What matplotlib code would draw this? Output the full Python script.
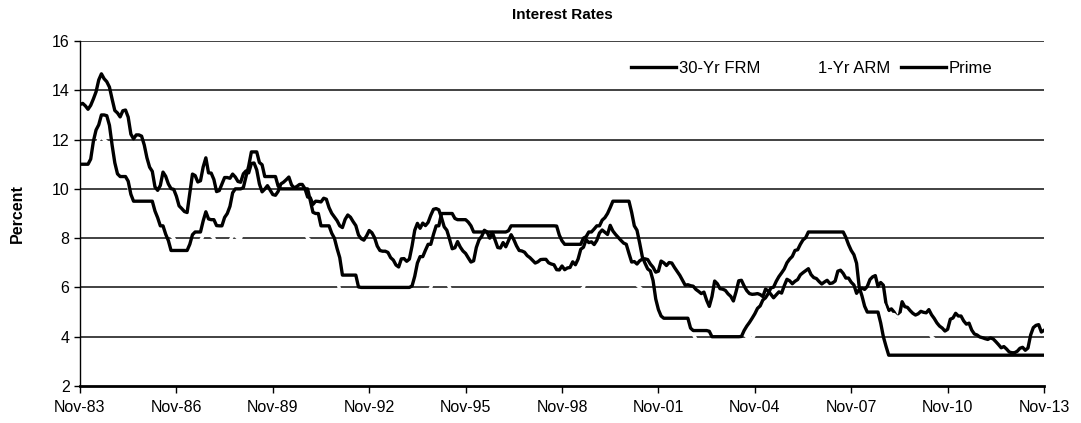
import numpy as np
import matplotlib
matplotlib.use("Agg")
import matplotlib.pyplot as plt

plt.rcParams['font.family'] = ['Liberation Sans', 'DejaVu Sans']

# Monthly data, Nov-1983 .. Nov-2013
frm = [
    13.42, 13.47,
    13.37, 13.23, 13.39, 13.65, 13.94, 14.42, 14.67, 14.47, 14.35, 14.13, 13.64, 13.18,
    13.08, 12.92, 13.17, 13.20, 12.91, 12.22, 12.03, 12.19, 12.19, 12.14, 11.78, 11.26,
    10.88, 10.71, 10.08, 9.94, 10.14, 10.68, 10.51, 10.20, 10.01, 9.98, 9.70, 9.31,
    9.20, 9.08, 9.04, 9.83, 10.60, 10.54, 10.28, 10.33, 10.89, 11.26, 10.65, 10.64,
    10.38, 9.89, 9.93, 10.20, 10.46, 10.46, 10.43, 10.60, 10.48, 10.30, 10.27, 10.61,
    10.73, 10.65, 11.03, 11.05, 10.77, 10.20, 9.88, 9.99, 10.13, 9.95, 9.77, 9.74,
    9.90, 10.20, 10.27, 10.37, 10.48, 10.16, 10.04, 10.10, 10.18, 10.18, 10.01, 9.67,
    9.64, 9.37, 9.50, 9.49, 9.47, 9.62, 9.58, 9.24, 9.01, 8.86, 8.71, 8.50,
    8.43, 8.76, 8.94, 8.85, 8.67, 8.51, 8.13, 7.98, 7.92, 8.09, 8.31, 8.22,
    8.02, 7.68, 7.50, 7.47, 7.47, 7.42, 7.21, 7.11, 6.91, 6.83, 7.16, 7.17,
    7.06, 7.15, 7.68, 8.32, 8.60, 8.40, 8.61, 8.51, 8.64, 8.93, 9.17, 9.20,
    9.15, 8.83, 8.46, 8.32, 7.96, 7.57, 7.61, 7.86, 7.64, 7.48, 7.38, 7.20,
    7.03, 7.08, 7.62, 7.93, 8.07, 8.32, 8.25, 8.00, 8.23, 7.92, 7.62, 7.60,
    7.82, 7.65, 7.90, 8.14, 7.94, 7.69, 7.50, 7.48, 7.43, 7.29, 7.21, 7.10,
    6.99, 7.04, 7.13, 7.14, 7.14, 7.00, 6.95, 6.92, 6.72, 6.71, 6.87, 6.72,
    6.79, 6.81, 7.04, 6.92, 7.15, 7.55, 7.63, 7.94, 7.82, 7.85, 7.74, 7.91,
    8.21, 8.33, 8.24, 8.15, 8.52, 8.29, 8.15, 8.03, 7.91, 7.80, 7.75, 7.38,
    7.03, 7.05, 6.95, 7.08, 7.15, 7.16, 7.13, 6.95, 6.82, 6.62, 6.66, 7.07,
    7.00, 6.89, 7.01, 6.99, 6.81, 6.65, 6.49, 6.29, 6.09, 6.11, 6.07, 6.05,
    5.92, 5.84, 5.75, 5.81, 5.48, 5.23, 5.63, 6.26, 6.15, 5.95, 5.93, 5.88,
    5.74, 5.64, 5.45, 5.83, 6.27, 6.29, 6.06, 5.87, 5.75, 5.72, 5.73, 5.75,
    5.71, 5.63, 5.93, 5.86, 5.72, 5.58, 5.70, 5.82, 5.77, 6.07, 6.33, 6.27,
    6.15, 6.25, 6.32, 6.51, 6.60, 6.68, 6.76, 6.52, 6.40, 6.36, 6.24, 6.14,
    6.22, 6.29, 6.16, 6.18, 6.26, 6.66, 6.70, 6.57, 6.38, 6.38, 6.21, 6.10,
    5.76, 5.92, 5.97, 5.92, 6.04, 6.32, 6.43, 6.48, 6.04, 6.20, 6.09, 5.33,
    5.06, 5.13, 5.00, 4.81, 4.86, 5.42, 5.22, 5.19, 5.06, 4.95, 4.88, 4.93,
    5.03, 4.99, 4.97, 5.10, 4.89, 4.74, 4.56, 4.43, 4.35, 4.23, 4.30, 4.71,
    4.76, 4.95, 4.84, 4.84, 4.64, 4.51, 4.55, 4.27, 4.11, 4.07, 3.99, 3.96,
    3.92, 3.89, 3.95, 3.91, 3.80, 3.68, 3.55, 3.60, 3.50, 3.38, 3.35, 3.35,
    3.41, 3.53, 3.57, 3.45, 3.54, 4.07, 4.37, 4.46, 4.49, 4.19, 4.26,
]

arm = [
    np.nan, np.nan,
    11.2, 11.3, 11.3, 11.5, 11.7, 12.0, 12.1, 12.0, 11.9, 11.6, 11.1, 10.7,
    10.5, 10.4, 10.6, 10.5, 10.2, 9.6, 9.4, 9.5, 9.5, 9.4, 9.2, 8.9,
    8.7, 8.6, 8.3, 8.2, 8.2, 8.4, 8.5, 8.4, 8.1, 8.0, 7.8, 7.6,
    7.4, 7.3, 7.2, 7.4, 7.9, 7.9, 7.8, 7.9, 8.1, 8.5, 8.3, 8.1,
    8.0, 7.7, 7.6, 7.6, 7.7, 7.8, 7.9, 8.1, 8.1, 8.0, 8.0, 8.3,
    8.7, 8.8, 9.1, 9.2, 9.1, 8.9, 8.6, 8.5, 8.6, 8.6, 8.5, 8.4,
    8.3, 8.4, 8.5, 8.6, 8.6, 8.4, 8.3, 8.3, 8.3, 8.3, 8.2, 8.0,
    7.9, 7.5, 7.5, 7.4, 7.3, 7.3, 7.3, 7.1, 6.8, 6.6, 6.3, 5.9,
    5.7, 5.6, 5.9, 5.8, 5.7, 5.5, 5.3, 5.2, 5.2, 5.3, 5.6, 5.5,
    5.2, 5.0, 4.9, 4.7, 4.6, 4.6, 4.5, 4.5, 4.4, 4.3, 4.3, 4.3,
    4.2, 4.3, 4.7, 5.2, 5.5, 5.5, 5.6, 5.7, 5.8, 6.0, 6.3, 6.5,
    6.6, 6.5, 6.3, 6.2, 6.0, 5.7, 5.6, 5.8, 5.8, 5.6, 5.5, 5.4,
    5.2, 5.2, 5.4, 5.6, 5.7, 5.9, 5.9, 5.8, 5.8, 5.7, 5.6, 5.6,
    5.6, 5.5, 5.6, 5.8, 5.8, 5.7, 5.6, 5.6, 5.6, 5.6, 5.6, 5.6,
    5.5, 5.5, 5.6, 5.6, 5.6, 5.6, 5.6, 5.6, 5.5, 5.3, 5.5, 5.6,
    5.6, 5.6, 5.7, 5.6, 5.7, 5.9, 6.0, 6.3, 6.4, 6.4, 6.3, 6.4,
    6.6, 6.9, 7.1, 7.1, 7.3, 7.3, 7.2, 7.2, 7.1, 7.1, 7.1, 6.9,
    6.5, 6.3, 6.1, 6.0, 5.9, 5.9, 5.8, 5.8, 5.6, 5.4, 5.4, 5.6,
    5.3, 5.2, 5.2, 5.2, 5.0, 4.8, 4.6, 4.4, 4.3, 4.2, 4.1, 4.1,
    3.9, 3.8, 3.8, 3.8, 3.7, 3.6, 3.6, 3.8, 3.7, 3.7, 3.7, 3.7,
    3.6, 3.5, 3.4, 3.6, 4.0, 4.2, 4.1, 4.0, 4.0, 3.9, 4.1, 4.2,
    4.2, 4.2, 4.3, 4.3, 4.2, 4.2, 4.4, 4.6, 4.6, 4.8, 5.0, 5.1,
    5.2, 5.3, 5.4, 5.6, 5.6, 5.7, 5.8, 5.7, 5.6, 5.5, 5.5, 5.4,
    5.5, 5.5, 5.4, 5.4, 5.5, 5.7, 5.7, 5.7, 5.6, 5.6, 5.5, 5.5,
    5.1, 5.0, 5.0, 5.1, 5.2, 5.3, 5.3, 5.2, 5.2, 5.2, 5.3, 5.0,
    4.9, 4.9, 4.9, 4.8, 4.8, 4.9, 4.8, 4.7, 4.6, 4.5, 4.4, 4.3,
    4.3, 4.3, 4.2, 4.2, 4.0, 3.9, 3.8, 3.6, 3.5, 3.4, 3.3, 3.3,
    3.3, 3.3, 3.2, 3.2, 3.1, 3.0, 3.0, 2.9, 2.9, 2.9, 2.9, 2.8,
    2.8, 2.8, 2.8, 2.8, 2.8, 2.7, 2.7, 2.6, 2.6, 2.6, 2.6, 2.6,
    2.6, 2.6, 2.6, 2.6, 2.6, 2.6, 2.7, 2.6, 2.6, 2.6, 2.6,
]

prime = [
    11.0, 11.0,
    11.0, 11.0, 11.21, 11.93, 12.39, 12.6, 13.0, 13.0, 12.97, 12.58, 11.77, 11.06,
    10.61, 10.5, 10.5, 10.5, 10.31, 9.78, 9.5, 9.5, 9.5, 9.5, 9.5, 9.5,
    9.5, 9.5, 9.1, 8.83, 8.5, 8.5, 8.16, 7.9, 7.5, 7.5, 7.5, 7.5,
    7.5, 7.5, 7.5, 7.75, 8.14, 8.25, 8.25, 8.25, 8.7, 9.07, 8.78, 8.75,
    8.75, 8.51, 8.5, 8.5, 8.84, 9.0, 9.29, 9.84, 10.0, 10.0, 10.0, 10.05,
    10.5, 10.93, 11.5, 11.5, 11.5, 11.07, 10.98, 10.5, 10.5, 10.5, 10.5, 10.5,
    10.11, 10.0, 10.0, 10.0, 10.0, 10.0, 10.0, 10.0, 10.0, 10.0, 10.0, 10.0,
    9.52, 9.05, 9.0, 9.0, 8.5, 8.5, 8.5, 8.5, 8.2, 8.0, 7.58, 7.21,
    6.5, 6.5, 6.5, 6.5, 6.5, 6.5, 6.02, 6.0, 6.0, 6.0, 6.0, 6.0,
    6.0, 6.0, 6.0, 6.0, 6.0, 6.0, 6.0, 6.0, 6.0, 6.0, 6.0, 6.0,
    6.0, 6.0, 6.06, 6.45, 6.99, 7.25, 7.25, 7.51, 7.75, 7.75, 8.15, 8.5,
    8.5, 9.0, 9.0, 9.0, 9.0, 9.0, 8.8, 8.75, 8.75, 8.75, 8.75, 8.65,
    8.5, 8.25, 8.25, 8.25, 8.25, 8.25, 8.25, 8.25, 8.25, 8.25, 8.25, 8.25,
    8.25, 8.25, 8.3, 8.5, 8.5, 8.5, 8.5, 8.5, 8.5, 8.5, 8.5, 8.5,
    8.5, 8.5, 8.5, 8.5, 8.5, 8.5, 8.5, 8.5, 8.49, 8.12, 7.89, 7.75,
    7.75, 7.75, 7.75, 7.75, 7.75, 7.75, 8.0, 8.06, 8.25, 8.25, 8.37, 8.5,
    8.5, 8.73, 8.83, 9.0, 9.24, 9.5, 9.5, 9.5, 9.5, 9.5, 9.5, 9.5,
    9.05, 8.5, 8.32, 7.8, 7.24, 6.98, 6.75, 6.67, 6.28, 5.53, 5.1, 4.84,
    4.75, 4.75, 4.75, 4.75, 4.75, 4.75, 4.75, 4.75, 4.75, 4.75, 4.35, 4.25,
    4.25, 4.25, 4.25, 4.25, 4.25, 4.22, 4.0, 4.0, 4.0, 4.0, 4.0, 4.0,
    4.0, 4.0, 4.0, 4.0, 4.0, 4.01, 4.25, 4.43, 4.58, 4.75, 4.93, 5.15,
    5.25, 5.49, 5.58, 5.75, 5.98, 6.01, 6.25, 6.44, 6.59, 6.75, 7.0, 7.15,
    7.26, 7.5, 7.53, 7.75, 7.93, 8.02, 8.25, 8.25, 8.25, 8.25, 8.25, 8.25,
    8.25, 8.25, 8.25, 8.25, 8.25, 8.25, 8.25, 8.25, 8.03, 7.74, 7.5, 7.33,
    6.98, 6.0, 5.66, 5.24, 5.0, 5.0, 5.0, 5.0, 5.0, 4.56, 4.0, 3.61,
] + [3.25] * 59

x_labels = ['Nov-83', 'Nov-86', 'Nov-89', 'Nov-92', 'Nov-95', 'Nov-98',
            'Nov-01', 'Nov-04', 'Nov-07', 'Nov-10', 'Nov-13']
series_names = ['30-Yr FRM', '1-Yr ARM', 'Prime']

months = np.arange(len(frm))

fig = plt.figure(figsize=(10.81, 4.23), dpi=100)
ax = fig.add_axes([0.074, 0.0875, 0.8918, 0.8155])

for yv in [4, 6, 8, 10, 12, 14, 16]:
    ax.axhline(yv, color='#333333', lw=1.3, zorder=1)

ax.plot(months, frm, color='black', lw=2.4, label=series_names[0], zorder=3)
ax.plot(months, arm, color='white', lw=2.4, label=series_names[1], zorder=3)
ax.plot(months, prime, color='black', lw=2.4, label=series_names[2], zorder=3)

ax.set_xlim(0, 360)
ax.set_ylim(2, 16)
ax.set_xticks(np.arange(0, 361, 36))
ax.set_xticklabels(x_labels, fontsize=11.5)
ax.set_yticks(np.arange(2, 17, 2))
ax.tick_params(axis='y', labelsize=11.5, length=4, width=1, direction='out')
ax.tick_params(axis='x', length=5, width=1, direction='out', pad=5)

for s in ['top', 'right']:
    ax.spines[s].set_visible(False)
ax.spines['bottom'].set_linewidth(2)
ax.spines['left'].set_linewidth(1)
ax.spines['bottom'].set_zorder(4)

ax.set_ylabel('Percent', fontsize=11.5, fontweight='bold', labelpad=19)
ax.set_title('Interest Rates', fontsize=11, fontweight='bold', pad=16)

leg = ax.legend(ncol=3, frameon=False, fontsize=12, loc='center left',
                bbox_to_anchor=(0.5837, 0.839), bbox_transform=fig.transFigure,
                handlelength=2.7, handletextpad=0.18, columnspacing=0.6,
                borderpad=0, borderaxespad=0)

fig.savefig('out.png', dpi=100)
